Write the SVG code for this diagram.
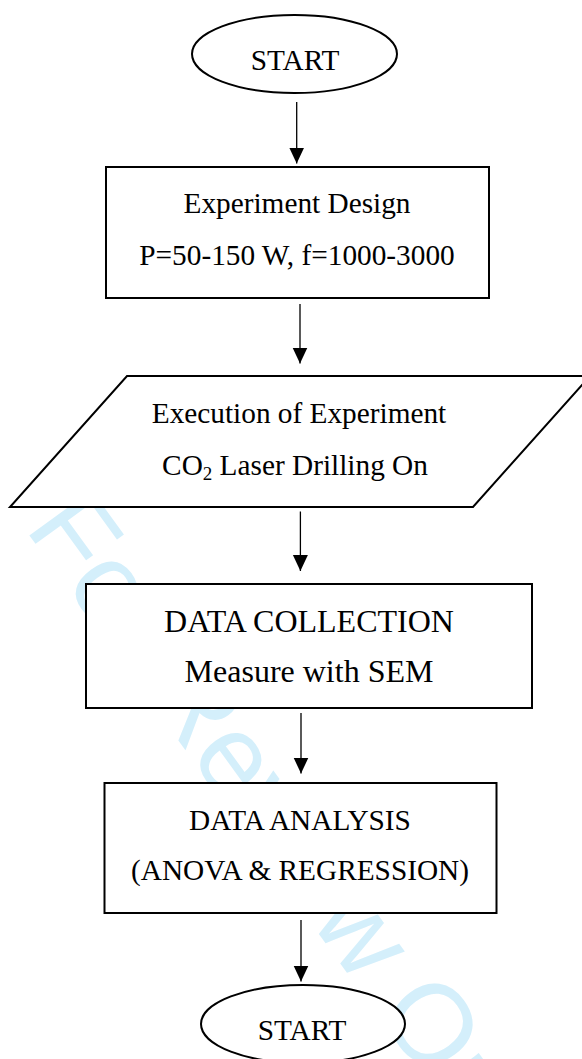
<svg xmlns="http://www.w3.org/2000/svg" width="582" height="1059" viewBox="0 0 582 1059">
<style>
.shape{fill:#fff;stroke:#000;stroke-width:2}
.lbl{font-family:'Liberation Serif','Times New Roman','DejaVu Serif',serif;font-size:29.3px;fill:#000;text-anchor:middle}
.big{font-size:32px}
.conn{stroke:#000;stroke-width:1.3;fill:none;marker-end:url(#arrow)}
.wm{font-family:'Liberation Sans',Arial,sans-serif;font-size:112px;fill:#d4effb}
</style>
<defs>
<marker id="arrow" markerUnits="userSpaceOnUse" markerWidth="16" markerHeight="16" refX="16" refY="8" orient="auto" viewBox="0 0 16 16"><path d="M0,0.5 L16,8 L0,15.5 z" fill="#000"/></marker>
</defs>
<rect width="582" height="1059" fill="#fff"/>
<text class="wm" transform="translate(24,528) rotate(54)">For Review Only</text>
<g id="connectors">
<path class="conn" d="M296.7,102 V163.5"/>
<path class="conn" d="M300,304 V363.5"/>
<path class="conn" d="M300.4,511.5 V571"/>
<path class="conn" d="M301,713 V773.5"/>
<path class="conn" d="M301,920 V981.5"/>
</g>
<g id="start">
<ellipse class="shape" cx="294.5" cy="54" rx="102.5" ry="39"/>
<text class="lbl" x="295" y="70">START</text>
</g>
<g id="design">
<rect class="shape" x="106" y="167" width="383" height="131"/>
<text class="lbl" x="297" y="213">Experiment Design</text>
<text class="lbl" x="297" y="265">P=50-150 W, f=1000-3000</text>
</g>
<g id="execution">
<polygon class="shape" points="127,376 590,376 473,507 10,507"/>
<text class="lbl" x="299" y="423">Execution of Experiment</text>
<text class="lbl" x="295" y="475">CO<tspan font-size="19" dy="5">2</tspan><tspan dy="-5"> Laser Drilling On</tspan></text>
</g>
<g id="collection">
<rect class="shape" x="86" y="584" width="446" height="124"/>
<text class="lbl big" x="309" y="632">DATA COLLECTION</text>
<text class="lbl big" x="309" y="682">Measure with SEM</text>
</g>
<g id="analysis">
<rect class="shape" x="104.5" y="783" width="392" height="130"/>
<text class="lbl" x="300" y="830">DATA ANALYSIS</text>
<text class="lbl" x="300" y="880">(ANOVA &amp; REGRESSION)</text>
</g>
<g id="end">
<ellipse class="shape" cx="303" cy="1024" rx="102" ry="39"/>
<text class="lbl" x="302" y="1040">START</text>
</g>
</svg>
